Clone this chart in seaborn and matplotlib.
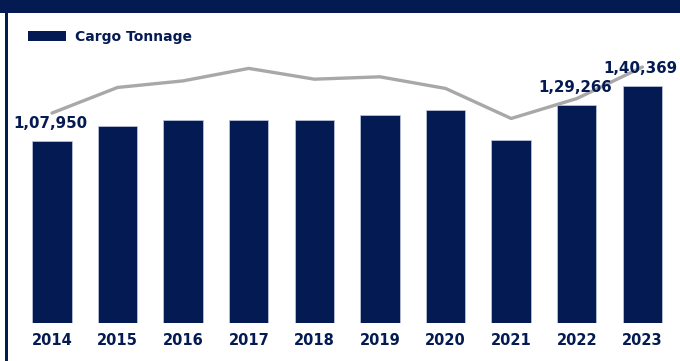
import numpy as np
import pandas as pd
import matplotlib
matplotlib.use("Agg")
import matplotlib.pyplot as plt
from matplotlib.patches import Patch, Rectangle
import seaborn as sns

# Annual cargo tonnage and the accompanying trend line
years = ["2014", "2015", "2016", "2017", "2018", "2019", "2020", "2021", "2022", "2023"]
cargo_tonnage = [107950, 116700, 120200, 120200, 120200, 123200, 126150, 108500, 129266, 140369]
trend_values = [124500, 139700, 143600, 151000, 144600, 146000, 139100, 121300, 133100, 151800]
labelled_years = ["2014", "2022", "2023"]

NAVY = "#041A52"
GREY = "#A8A8A8"

df = pd.DataFrame({"year": years, "tonnage": cargo_tonnage, "trend": trend_values})

sns.set_theme(style="white")
plt.rcParams["font.family"] = ["DejaVu Sans"]

fig = plt.figure(figsize=(6.8, 3.61), dpi=100)
ax = fig.add_axes([0.0282, 0.1053, 0.9647, 0.8393])

sns.barplot(data=df, x="year", y="tonnage", color=NAVY, width=0.6,
            edgecolor="#C3CAE0", linewidth=0.5, saturation=1, ax=ax, zorder=2)
sns.pointplot(data=df, x="year", y="trend", color=GREY, marker="",
              linewidth=2.4, errorbar=None, ax=ax, zorder=3)

ax.set_xlim(-0.5, len(years) - 0.5)
ax.set_ylim(0, 179700)
ax.set_xlabel("")
ax.set_ylabel("")
ax.set_yticks([])
sns.despine(ax=ax, left=True, bottom=True)
ax.tick_params(axis="x", length=0, pad=7)
for lbl in ax.get_xticklabels():
    lbl.set_fontweight("bold")
    lbl.set_fontsize(10.5)
    lbl.set_color(NAVY)


def indian_format(v):
    """Group digits the Indian way: 1,40,369."""
    digits = str(int(v))
    head, tail = digits[:-3], digits[-3:]
    groups = []
    while len(head) > 2:
        groups.insert(0, head[-2:])
        head = head[:-2]
    if head:
        groups.insert(0, head)
    return ",".join(groups + [tail])


# Value labels for selected years
for i, (yr, val) in enumerate(zip(years, cargo_tonnage)):
    if yr in labelled_years:
        ax.annotate(indian_format(val), xy=(i, val), xytext=(-1.2, 9.5),
                    textcoords="offset points", ha="center", va="baseline",
                    fontsize=10.8, fontweight="bold", color=NAVY, zorder=5,
                    annotation_clip=False)

# Legend
handle = Patch(facecolor=NAVY, edgecolor="none", label="Cargo Tonnage")
fig.legend(handles=[handle], loc="center left", bbox_to_anchor=(28 / 680, 1 - 37 / 361),
           frameon=False, borderpad=0, borderaxespad=0, handlelength=2.7,
           handleheight=0.75, handletextpad=0.65,
           prop={"weight": "bold", "size": 10}, labelcolor=NAVY)

# Frame: top band and left strip
fig.patches.append(Rectangle((0, 1 - 13.3 / 361), 1, 13.3 / 361, transform=fig.transFigure,
                             facecolor=NAVY, edgecolor="none", zorder=10))
fig.patches.append(Rectangle((4.5 / 680, 0), 3.5 / 680, 1, transform=fig.transFigure,
                             facecolor=NAVY, edgecolor="none", zorder=10))

fig.savefig("out.png", dpi=100)
